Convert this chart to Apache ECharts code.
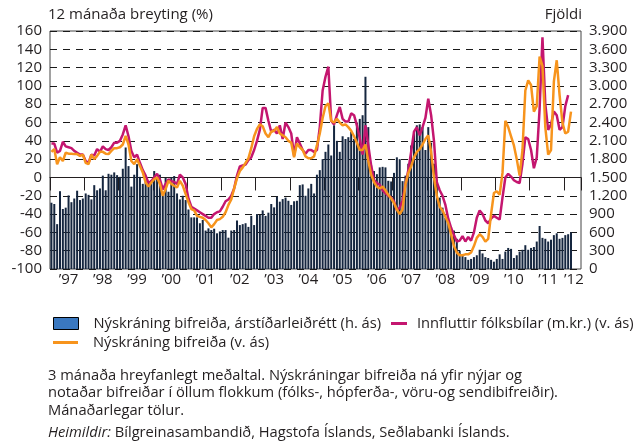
<!DOCTYPE html>
<html><head><meta charset="utf-8">
<script src="https://cdn.jsdelivr.net/npm/echarts@6/dist/echarts.min.js"></script>
<style>html,body{margin:0;padding:0;background:#fff}#c{width:642px;height:441px}</style>
</head><body><div id="c"></div>
<script>
// ---- data ----
const startYear = 1997;
const nMonths = 186; // Jan 1997 .. Jun 2012 axis span
const yearLabels = ["’97","’98","’99","’00","’01","’02","’03","’04","’05","’06","’07","’08","’09","’10","’11","’12"];
const leftTitle = "12 mánaða breyting (%)";
const rightTitle = "Fjöldi";
const nameBars = "Nýskráning bifreiða, árstíðarleiðrétt (h. ás)";
const nameImports = "Innfluttir fólksbílar (m.kr.) (v. ás)";
const nameRegs = "Nýskráning bifreiða (v. ás)";

// Nýskráning bifreiða, árstíðarleiðrétt (fjöldi, right axis)
const registrationsSA = [
 1086,1065,735,1275,983,1005,1206,1095,1155,1283,1130,1155,
 1238,1215,1140,1374,1290,1320,1530,1290,1560,1545,1583,1538,
 1510,1643,1991,1686,1350,1545,1718,1510,1395,1455,1410,1455,
 1605,1500,1545,1238,1493,1266,1500,1523,1238,1140,1200,1130,
 975,846,846,846,750,803,630,666,638,660,585,615,
 638,638,513,630,638,795,720,735,750,690,870,720,
 900,885,960,870,923,1065,1010,1185,1103,1146,1170,1118,
 1050,1110,1118,1374,1386,1200,1320,1395,1238,1545,1620,1800,
 1920,2040,1860,2355,2100,1920,2175,2130,2160,2250,2130,2400,
 2460,2520,3150,2325,1690,1605,1554,1665,1674,1665,1446,1434,
 1575,1830,1800,1440,1530,1725,2025,2250,2355,2370,2325,1950,
 2325,2070,1725,1455,1170,1005,840,765,645,630,495,300,
 240,195,150,165,195,225,315,255,195,180,150,120,
 165,240,165,285,345,330,180,225,285,315,390,315,
 345,360,450,705,510,495,450,480,555,585,495,510,
 555,570,600
];
// Nýskráning bifreiða, 12 mánaða breyting % (left axis)
const registrationsYoY = [
 28,31,14.5,22,18,27,26,26,25.5,25.5,23.6,25,
 16,14.5,25,20,23.6,28,28,26,25.5,29,32,32,
 33,36,45.5,36,18,14.5,20,12.7,5.5,-5.5,-10,-5.5,
 -2,0,-7,-20,-12.7,-3.6,-7,-9,-11,-3.6,-9,-18,
 -27,-34.5,-36,-42,-43,-44,-46.5,-50,-54.5,-51,-46.5,-45.5,
 -43,-38,-30,-24,-12,-1,7,11,16,21,32,45,
 53,58,56,48,44,50,51,55,48,46,44,40,
 38,22,37,33,30,23,21,21,23,35,48,65,
 78,81,62,60,64,60,57,58,55,51,45,38,
 30,30,36,18,3,-5,-10,-12,-10,-14,-19,-23,
 -28,-35,-40,-35,-8,5,12,22,28,31,36,42,
 46,28,0,-20,-32,-36,-43,-50,-62,-75,-82,-85,
 -85,-84,-84,-82,-75,-66,-62,-65,-70,-67,-40,-17,
 -15,-19,5,62,55,45,35,20,2,30,95,106,
 101,72,78,132,122,55,25,30,105,128,90,60,
 48,50,72
];
// Innfluttir fólksbílar (m.kr.), 12 mánaða breyting % (left axis)
const importsYoY = [
 37,37,27,29,39,34,33,32,29,27,25,25,
 18,16,25,24,31,28,34,31,30,33,38,38,
 40,47,57,45,29,22,25,16,8,2,-6,-4,
 0,4,-2,-13,-7,-2,-4,-5,-7,3,0,-7,
 -23,-32,-34,-36,-38,-40,-42,-44,-44,-40,-38,-37,
 -32,-26,-24,-20,-12,2,12,13,14,19,22,30,
 40,52,76,76,62,50,52,48,57,42,60,55,
 48,24,44,37,30,26,30,30,28,30,55,95,
 110,121,62,58,68,77,64,61,61,70,68,57,
 43,25,57,35,13,-3,-6,-8,-14,-17,-20,-22,
 -26,-36,-33,-25,-8,8,28,50,55,46,55,65,
 86,68,40,-5,-14,-20,-30,-45,-55,-63,-70,-69,
 -64,-70,-65,-69,-60,-44,-36,-40,-47,-50,-45,-42,
 -44,-46,-22,0,4,1,-3,-5,-6,15,44,42,
 30,10,22,75,153,80,52,58,72,68,52,55,
 78,90
];
const noteLines = [
 "3 mánaða hreyfanlegt meðaltal. Nýskráningar bifreiða ná yfir nýjar og",
 "notaðar bifreiðar í öllum flokkum (fólks-, hópferða-, vöru-og sendibifreiðir).",
 "Mánaðarlegar tölur."
];
const sourceLabel = "Heimildir:";
const sourceText = " Bílgreinasambandið, Hagstofa Íslands, Seðlabanki Íslands.";

// ---- build ----
const months = [];
for (let i = 0; i < nMonths; i++) {
  const y = startYear + Math.floor(i / 12), m = i % 12 + 1;
  months.push(y + '-' + (m < 10 ? '0' : '') + m);
}
const FONT = '"Open Sans"';
const TXT = '#231f20';
const SMALL = 14.7;
function dotThousands(v) {
  if (v < 1000) return String(v);
  const s = String(v);
  return s.slice(0, s.length - 3) + '.' + s.slice(s.length - 3);
}

const chart = echarts.init(document.getElementById('c'), null, {renderer: 'canvas'});
chart.setOption({
  animation: false,
  backgroundColor: '#fff',
  textStyle: {fontFamily: FONT, color: TXT},
  grid: {left: 50, right: 61, top: 31, bottom: 172, show: true, borderColor: '#444', borderWidth: 1, backgroundColor: 'transparent'},
  xAxis: {
    type: 'category', data: months, boundaryGap: true,
    axisLine: {show: true, lineStyle: {color: TXT, width: 1}},
    axisTick: {show: true, length: 13, interval: (i) => i % 12 === 0, lineStyle: {color: TXT, width: 1}},
    axisLabel: {interval: (i) => i % 12 === 6 || i === 183, formatter: (v, i) => yearLabels[Math.floor(i / 12)],
      fontFamily: FONT, fontSize: 15, color: TXT, margin: 3},
    splitLine: {show: false}
  },
  yAxis: [
    {type: 'value', min: -100, max: 160, interval: 20, position: 'left',
     axisLine: {show: false}, axisTick: {show: false},
     axisLabel: {fontFamily: FONT, fontSize: 15, color: TXT, margin: 8},
     splitLine: {show: true, lineStyle: {color: '#1a1a1a', width: 1, type: [7, 6]}}},
    {type: 'value', min: 0, max: 3900, interval: 300, position: 'right',
     axisLine: {show: false}, axisTick: {show: false},
     axisLabel: {fontFamily: FONT, fontSize: 15, color: TXT, margin: 8, formatter: dotThousands},
     splitLine: {show: false}}
  ],
  legend: [
    {left: 48, top: 311, itemWidth: 25, itemHeight: 12, icon: 'rect', itemGap: 0,
     textStyle: {fontFamily: FONT, fontSize: SMALL, color: TXT, padding: [0, 0, 0, 10]},
     data: [{name: nameBars, itemStyle: {color: '#3a78c0', borderColor: '#000', borderWidth: 1}}]},
    {left: 386, top: 311, itemWidth: 16, itemHeight: 3, icon: 'rect', itemGap: 0,
     textStyle: {fontFamily: FONT, fontSize: SMALL, color: TXT, padding: [0, 0, 0, 5]},
     data: [nameImports]},
    {left: 48, top: 330, itemWidth: 25, itemHeight: 3, icon: 'rect', itemGap: 0,
     textStyle: {fontFamily: FONT, fontSize: SMALL, color: TXT, padding: [0, 0, 0, 10]},
     data: [nameRegs]}
  ],
  graphic: [
    {type: 'text', left: 48, top: 7, style: {text: leftTitle, font: '15px ' + FONT, fill: TXT}},
    {type: 'text', right: 60, top: 7, style: {text: rightTitle, font: '15px ' + FONT, fill: TXT}},
    {type: 'text', left: 48, top: 367, style: {text: noteLines.join('\n'), font: SMALL + 'px ' + FONT, fill: TXT, lineHeight: 17.5}},
    {type: 'text', left: 48, top: 425, style: {
      text: '{i|' + sourceLabel + '}' + sourceText, font: SMALL + 'px ' + FONT, fill: TXT,
      rich: {i: {fontStyle: 'italic', fontFamily: FONT, fontSize: SMALL, fill: TXT}}}}
  ],
  series: [
    {name: nameBars, type: 'bar', yAxisIndex: 1, data: registrationsSA, barCategoryGap: '30%',
     itemStyle: {color: '#15263f'}, silent: true},
    {name: nameImports, type: 'line', yAxisIndex: 0, data: importsYoY, symbol: 'none', showSymbol: false,
     lineStyle: {color: '#c4166f', width: 2.5}, itemStyle: {color: '#c4166f'}, silent: true},
    {name: nameRegs, type: 'line', yAxisIndex: 0, data: registrationsYoY, symbol: 'none', showSymbol: false,
     lineStyle: {color: '#f7941d', width: 2.5}, itemStyle: {color: '#f7941d'}, silent: true}
  ]
});
</script></body></html>
